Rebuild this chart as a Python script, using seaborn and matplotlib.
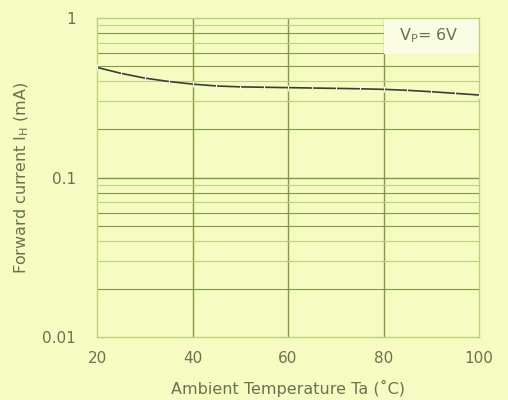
import numpy as np
import pandas as pd
import matplotlib
matplotlib.use("Agg")
import matplotlib.pyplot as plt
import seaborn as sns

# values
temperature = [20, 25, 30, 35, 40, 45, 50, 55, 60, 65, 70, 75, 80, 85, 90, 95, 100]
forward_current = [0.49, 0.45, 0.42, 0.40, 0.385, 0.375, 0.37, 0.368, 0.366, 0.364,
                   0.362, 0.36, 0.357, 0.352, 0.345, 0.337, 0.329]
x_ticks = [20, 40, 60, 80, 100]
y_ticks = [0.01, 0.1, 1]
y_tick_labels = ["0.01", "0.1", "1"]
note = "V$_\\mathrm{P}$= 6V"

bg = "#f6fbc2"
grid_dark = "#7f9a45"
grid_light = "#b9d07c"
text_col = "#67744f"

sns.set_theme(style="white")
plt.rcParams["font.family"] = ["DejaVu Sans"]

df = pd.DataFrame({"Ta": temperature, "IH": forward_current})

fig = plt.figure(figsize=(5.08, 4.0), dpi=100, facecolor=bg)
ax = fig.add_axes([0.191, 0.1575, 0.752, 0.7975])
ax.set_facecolor(bg)

sns.lineplot(data=df, x="Ta", y="IH", ax=ax, color="#3a4030", linewidth=1.2,
             marker="|", markersize=4, markeredgewidth=0.8, zorder=5)

ax.set_yscale("log")
ax.set_xlim(20, 100)
ax.set_ylim(0.01, 1)

# grid: vertical majors, horizontal decades + minor lines
for xv in x_ticks[1:-1]:
    ax.axvline(xv, color=grid_dark, linewidth=1.0, zorder=1)
for dec in [0.01, 0.1]:
    for k in range(1, 10):
        yv = dec * k
        if yv in (0.01,):
            continue
        col = grid_dark if k in (1, 2, 5, 6, 8) else grid_light
        lw = 1.0 if k == 1 else 0.8
        ax.axhline(yv, color=col, linewidth=lw, zorder=1)

# note box in the top right cell
ax.fill_between([80, 100], 0.6, 1.0, color="#fafde4", zorder=2)
ax.text(89.5, 0.77, note, ha="center", va="center", fontsize=11.5,
        color=text_col, zorder=6)

for s in ax.spines.values():
    s.set_color(grid_light)
    s.set_linewidth(1.0)

ax.set_xticks(x_ticks)
ax.set_xticklabels([str(v) for v in x_ticks])
ax.set_yticks(y_ticks)
ax.set_yticklabels(y_tick_labels)
ax.minorticks_off()
ax.tick_params(axis="both", length=0, colors=text_col, labelsize=11)
ax.tick_params(axis="x", pad=10)
ax.tick_params(axis="y", pad=15)

ax.set_xlabel("Ambient Temperature Ta (˚C)", fontsize=11.5, color=text_col, labelpad=10)
ax.set_ylabel("Forward current I$_\\mathrm{H}$ (mA)", fontsize=11.5, color=text_col, labelpad=8)

fig.savefig("out.png", dpi=100, facecolor=bg)
